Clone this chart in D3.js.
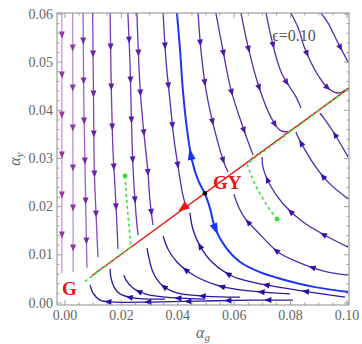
<!DOCTYPE html>
<html><head><meta charset="utf-8">
<script src="https://cdn.jsdelivr.net/npm/d3@7"></script>
<style>body{margin:0;background:#fff}svg{display:block}</style>
</head><body>
<svg id="c" width="362" height="344"></svg>
<script>
// ---------------- data ----------------
const xTicks = [0, 0.02, 0.04, 0.06, 0.08, 0.10];
const xTickLabels = ["0.00", "0.02", "0.04", "0.06", "0.08", "0.10"];
const yTicks = [0, 0.01, 0.02, 0.03, 0.04, 0.05, 0.06];
const yTickLabels = ["0.00", "0.01", "0.02", "0.03", "0.04", "0.05", "0.06"];
const epsilonLabel = "ϵ=0.10";

// streamlines above the red line, flowing down (upper-left)
const streamsDown = [
  [[-0.0011,0.0602],[-0.0011,0.0330],[-0.0011,0.0062]],
  [[0.0027,0.0602],[0.0028,0.0318],[0.0029,0.0064]],
  [[0.0064,0.0602],[0.0067,0.0405],[0.0071,0.0282],[0.0075,0.0154],[0.0078,0.0073]],
  [[0.0098,0.0602],[0.0101,0.0432],[0.0104,0.0276],[0.0110,0.0185],[0.0117,0.0095]],
  [[0.0160,0.0602],[0.0163,0.0484],[0.0170,0.0318],[0.0177,0.0245],[0.0184,0.0162],[0.0188,0.0112]],
  [[0.0223,0.0602],[0.0230,0.0505],[0.0241,0.0283],[0.0252,0.0183],[0.0259,0.0141]],
  [[0.0255,0.0602],[0.0266,0.0448],[0.0277,0.0369],[0.0294,0.0272],[0.0301,0.0214],[0.0312,0.0162]],
  [[0.0348,0.0602],[0.0358,0.0505],[0.0372,0.0421],[0.0387,0.0338],[0.0404,0.0272],[0.0418,0.0224],[0.0429,0.0201]]
];
// streamlines above the red line, right of the separatrix
const streamsUpperRight = [
  [[0.0472,0.0602],[0.0482,0.0525],[0.0500,0.0442],[0.0528,0.0365],[0.0564,0.0291],[0.0578,0.0272]],
  [[0.0535,0.0602],[0.0560,0.0525],[0.0589,0.0442],[0.0631,0.0365],[0.0667,0.0307]],
  [[0.0624,0.0602],[0.0652,0.0525],[0.0688,0.0448],[0.0730,0.0386],[0.0762,0.0359],[0.0791,0.0355]],
  [[0.0713,0.0602],[0.0766,0.0480],[0.0819,0.0428],[0.0837,0.0405]],
  [[0.0801,0.0602],[0.0830,0.0567],[0.0848,0.0532],[0.0897,0.0473],[0.0933,0.0446],[0.0968,0.0436],[0.1004,0.0446]],
  [[0.0908,0.0602],[0.0933,0.0581],[0.0968,0.0540],[0.1004,0.0500]]
];
// streamlines below the red line, right of the separatrix (flowing up-left)
const streamsLowerRight = [
  [[0.1004,0.0303],[0.0954,0.0353],[0.0918,0.0384],[0.0904,0.0394]],
  [[0.1004,0.0216],[0.0933,0.0251],[0.0887,0.0284],[0.0851,0.0318],[0.0826,0.0345],[0.0819,0.0355]],
  [[0.1004,0.0116],[0.0933,0.0137],[0.0844,0.0168],[0.0773,0.0206],[0.0727,0.0245],[0.0702,0.0282],[0.0699,0.0303]],
  [[0.1004,0.0058],[0.0933,0.0064],[0.0826,0.0085],[0.0755,0.0106],[0.0684,0.0147],[0.0638,0.0176],[0.0613,0.0203],[0.0599,0.0226]]
];
// streamlines below the red line, left of the separatrix (flowing up-left)
const streamsLowerLeft = [
  [[0.0808,0.0006],[0.0656,0.0006],[0.0479,0.0004],[0.0301,0.0002],[0.0177,0.0002],[0.0124,0.0006],[0.0099,0.0021],[0.0089,0.0037]],
  [[0.0355,0.0008],[0.0248,0.0010],[0.0195,0.0019],[0.0174,0.0033],[0.0163,0.0052],[0.0160,0.0071]],
  [[0.0496,0.0008],[0.0355,0.0012],[0.0284,0.0019],[0.0241,0.0031],[0.0216,0.0048],[0.0209,0.0058]],
  [[0.0621,0.0012],[0.0479,0.0015],[0.0397,0.0021],[0.0344,0.0037],[0.0312,0.0064],[0.0298,0.0093],[0.0291,0.0114]],
  [[0.0798,0.0019],[0.0656,0.0025],[0.0550,0.0035],[0.0461,0.0056],[0.0397,0.0085],[0.0365,0.0112],[0.0348,0.0139]],
  [[0.0993,0.0012],[0.0887,0.0021],[0.0780,0.0031],[0.0674,0.0042],[0.0592,0.0056],[0.0521,0.0085],[0.0479,0.0118],[0.0454,0.0152],[0.0443,0.0187]]
];
// separatrix through GY
const separatrixUp = [[0.0496,0.0228],[0.0472,0.0255],[0.0450,0.0297],[0.0433,0.0359],[0.0418,0.0442],[0.0408,0.0525],[0.0397,0.0602]];
const separatrixDown = [[0.0496,0.0228],[0.0514,0.0197],[0.0532,0.0156],[0.0567,0.0118],[0.0621,0.0085],[0.0691,0.0064],[0.0766,0.0050],[0.0887,0.0033],[0.1004,0.0023]];
// red line (G -> end) and points
const redLine = [[0.0096,0.0057],[0.1007,0.0446]];
const pointG = [0.0096, 0.0057];
const pointGY = [0.0496, 0.0228];
const redArrowAt = [0.0418, 0.0197];
// green dotted trajectories
const greenPath1 = [[0.0213,0.0264],[0.0216,0.0236],[0.0220,0.0204],[0.0227,0.0160],[0.0234,0.0116],[0.0064,0.0042]];
const greenPath2 = [[0.0752,0.0174],[0.0727,0.0193],[0.0702,0.0216],[0.0674,0.0245],[0.0656,0.0272],[0.0645,0.0289],[0.1007,0.0446]];
const greenStarts = [[0.0213,0.0264],[0.0752,0.0174]];

// ---------------- drawing ----------------
const svg = d3.select("#c");
const L = 57, R = 349, T = 13, B = 305;
const x = d3.scaleLinear().domain([-0.00284, 0.10071]).range([L, R]);
const y = d3.scaleLinear().domain([-0.000415, 0.06021]).range([B, T]);
const serif = "'Liberation Serif','Times New Roman',serif";

svg.append("defs").append("clipPath").attr("id","clip")
  .append("rect").attr("x",L).attr("y",T).attr("width",R-L).attr("height",B-T);
const plot = svg.append("g").attr("clip-path","url(#clip)");

const curve = d3.line().x(d=>x(d[0])).y(d=>y(d[1])).curve(d3.curveCatmullRom.alpha(0.5));
const lin = d3.line().x(d=>x(d[0])).y(d=>y(d[1]));

function arrowAt(g, node, s, len, hw, color) {
  const tot = node.getTotalLength();
  const a = node.getPointAtLength(Math.max(0, s - 2));
  const b = node.getPointAtLength(Math.min(tot, s + 2));
  let dx = b.x - a.x, dy = b.y - a.y; const n = Math.hypot(dx, dy) || 1; dx /= n; dy /= n;
  const c = node.getPointAtLength(s);
  const tip = [c.x + dx*len/2, c.y + dy*len/2];
  const bs = [c.x - dx*len/2, c.y - dy*len/2];
  const p1 = [bs[0] - dy*hw, bs[1] + dx*hw];
  const p2 = [bs[0] + dy*hw, bs[1] - dx*hw];
  g.append("path").attr("d", `M${tip}L${p1}L${p2}Z`).attr("fill", color);
}
function drawStream(g, pts, color, arrowColor, phase, width) {
  const p = g.append("path").attr("d", curve(pts)).attr("fill","none")
    .attr("stroke", color).attr("stroke-width", width || 1.3);
  const node = p.node(), tot = node.getTotalLength();
  if (tot < 55) { arrowAt(g, node, tot*0.5, 7, 3, arrowColor); return; }
  for (let s = phase; s < tot - 8; s += 40) arrowAt(g, node, s, 7, 3, arrowColor);
}

const downColor = d3.scaleLinear().domain([0, 0.003, 0.007, 0.012, 0.035])
  .range(["#c99ad6","#b593d8","#9458c4","#7c3cb8","#5a2cb0"]).interpolate(d3.interpolateLab).clamp(true);
const downArrow = d3.scaleLinear().domain([0, 0.003, 0.007, 0.012, 0.035])
  .range(["#9a36a6","#8a38a8","#7428a8","#6422a8","#4a1aa8"]).interpolate(d3.interpolateLab).clamp(true);

streamsDown.forEach((s,i) => drawStream(plot, s, downColor(s[0][0]), downArrow(s[0][0]), 22 + (i*13)%20));
streamsUpperRight.forEach((s,i) => drawStream(plot, s, "#5a2cb0", "#4a1aa8", 30 + (i*11)%15));
streamsLowerRight.forEach((s,i) => drawStream(plot, s, "#4f28b0", "#3a14a8", 25 + (i*9)%15));
streamsLowerLeft.forEach((s,i) => drawStream(plot, s, "#2a16a8", "#2010a0", 25 + (i*11)%20));

// separatrix (thick blue)
[separatrixUp, separatrixDown].forEach((s, i) => {
  const p = plot.append("path").attr("d", curve(s)).attr("fill","none")
    .attr("stroke","#1a35f5").attr("stroke-width",2);
  arrowAt(plot, p.node(), i === 0 ? 42 : 38, 12, 4, "#1a35f5");
});

// red line with arrow
plot.append("path").attr("d", lin(redLine)).attr("stroke","#ee1111").attr("stroke-width",1.4).attr("fill","none");
{
  const tx = x(pointG[0]) - x(pointGY[0]), ty = y(pointG[1]) - y(pointGY[1]);
  const n = Math.hypot(tx, ty), dx = tx/n, dy = ty/n;
  const cx = x(redArrowAt[0]), cy = y(redArrowAt[1]), len = 11, hw = 4.5;
  const tip = [cx + dx*len/2, cy + dy*len/2], bs = [cx - dx*len/2, cy - dy*len/2];
  plot.append("path").attr("d", `M${tip}L${[bs[0]-dy*hw, bs[1]+dx*hw]}L${[bs[0]+dy*hw, bs[1]-dx*hw]}Z`).attr("fill","#ee1111");
}

// green dotted trajectories
[greenPath1, greenPath2].forEach(s => {
  plot.append("path").attr("d", lin(s)).attr("fill","none").attr("stroke","#33e033")
    .attr("stroke-width",1.6).attr("stroke-dasharray","3,3");
});
plot.selectAll("circle.gs").data(greenStarts).enter().append("circle")
  .attr("cx", d=>x(d[0])).attr("cy", d=>y(d[1])).attr("r", 2.4).attr("fill","#33e033");

// GY point
plot.append("circle").attr("cx", x(pointGY[0])).attr("cy", y(pointGY[1])).attr("r", 2.3).attr("fill","#000");

// labels G, GY
svg.append("text").attr("x", x(pointG[0]) - 30).attr("y", y(pointG[1]) + 19)
  .attr("font-family", serif).attr("font-weight","bold").attr("font-size",19).attr("fill","#ee1111").text("G");
svg.append("text").attr("x", x(pointGY[0]) + 8).attr("y", y(pointGY[1]) - 4)
  .attr("font-family", serif).attr("font-weight","bold").attr("font-size",19).attr("fill","#ee1111").text("GY");

// epsilon label
svg.append("text").attr("x", 294).attr("y", 41).attr("text-anchor","middle")
  .attr("font-family", serif).attr("font-size",16).attr("fill","#555").text(epsilonLabel);

// frame
const frameColor = "#8c8c8c";
svg.append("rect").attr("x",L).attr("y",T).attr("width",R-L).attr("height",B-T)
  .attr("fill","none").attr("stroke",frameColor).attr("stroke-width",1);

// ticks
const ax = svg.append("g").attr("stroke", frameColor).attr("stroke-width", 0.8);
const xMinor = d3.range(0, 0.1001, 0.005), yMinor = d3.range(0, 0.0601, 0.002);
xMinor.forEach(v => {
  const major = Math.abs(Math.round(v/0.02)*0.02 - v) < 1e-9, len = major ? 5 : 2.5;
  ax.append("line").attr("x1", x(v)).attr("x2", x(v)).attr("y1", B).attr("y2", B - len);
  ax.append("line").attr("x1", x(v)).attr("x2", x(v)).attr("y1", T).attr("y2", T + len);
});
yMinor.forEach(v => {
  const major = Math.abs(Math.round(v/0.01)*0.01 - v) < 1e-9, len = major ? 5 : 2.5;
  ax.append("line").attr("x1", L).attr("x2", L + len).attr("y1", y(v)).attr("y2", y(v));
  ax.append("line").attr("x1", R).attr("x2", R - len).attr("y1", y(v)).attr("y2", y(v));
});
svg.selectAll("text.xt").data(xTicks).enter().append("text")
  .attr("x", d=>x(d)).attr("y", 320).attr("text-anchor","middle")
  .attr("font-family", serif).attr("font-size",14).attr("fill","#666")
  .text((d,i)=>xTickLabels[i]);
svg.selectAll("text.yt").data(yTicks).enter().append("text")
  .attr("x", 53).attr("y", d=>y(d) + 4.5).attr("text-anchor","end")
  .attr("font-family", serif).attr("font-size",14).attr("fill","#666")
  .text((d,i)=>yTickLabels[i]);

// axis titles
const xt = svg.append("text").attr("x", 203).attr("y", 338).attr("text-anchor","middle")
  .attr("font-family", serif).attr("font-style","italic").attr("fill","#666").attr("font-size",16);
xt.append("tspan").text("α");
xt.append("tspan").attr("font-size",11).attr("dy",3).text("g");
const yt = svg.append("text").attr("transform","translate(20,159) rotate(-90)").attr("text-anchor","middle")
  .attr("font-family", serif).attr("font-style","italic").attr("fill","#666").attr("font-size",16);
yt.append("tspan").text("α");
yt.append("tspan").attr("font-size",11).attr("dy",3).text("y");
</script>
</body></html>
